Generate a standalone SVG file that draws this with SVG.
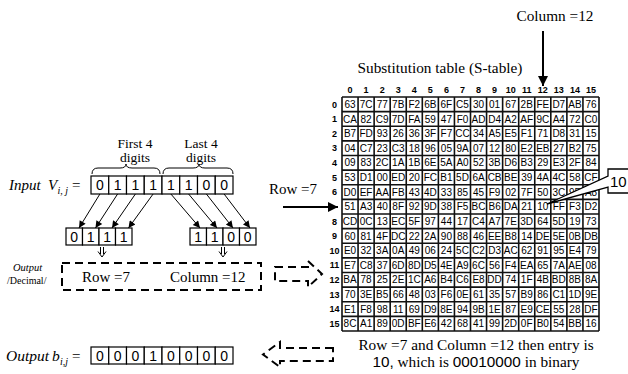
<svg xmlns="http://www.w3.org/2000/svg" width="628" height="374" viewBox="0 0 628 374">
<defs>
<marker id="ah" viewBox="0 0 10 10" refX="10" refY="5" markerWidth="9" markerHeight="7" markerUnits="userSpaceOnUse" orient="auto"><path d="M0,0 L10,5 L0,10 z" fill="#000"/></marker>
<marker id="ahb" viewBox="0 0 10 10" refX="10" refY="5" markerWidth="11" markerHeight="10" markerUnits="userSpaceOnUse" orient="auto"><path d="M0,0 L10,5 L0,10 z" fill="#000"/></marker>
</defs>
<style>
.serif{font-family:"Liberation Serif","Times New Roman",serif;fill:#000}
.it{font-style:italic}
.c{font-family:"Liberation Sans",Arial,sans-serif;font-size:10px;text-anchor:middle;fill:#000}
.hd{font-family:"Liberation Sans",Arial,sans-serif;font-size:9px;font-weight:bold;text-anchor:middle;fill:#000}
.box{fill:#fff;stroke:#000;stroke-width:1.2}
.bit{font-family:"Liberation Sans",Arial,sans-serif;font-size:14px;text-anchor:middle;fill:#000}
.dash{fill:none;stroke:#000;stroke-width:2;stroke-dasharray:8 5}
.ln{stroke:#000;stroke-width:1;fill:none}
.grid{stroke:#111;stroke-width:1.6;fill:none}
</style>
<rect width="628" height="374" fill="#fff"/>

<g id="column-label">
<text class="serif" x="555" y="21" font-size="15.3" text-anchor="middle">Column =12</text>
</g>
<g id="table-title">
<text class="serif" x="440" y="73" font-size="15.3" text-anchor="middle">Substitution table (S-table)</text>
</g>

<g id="s-table">
<rect x="342" y="97" width="257" height="234" fill="#fff"/>
<path class="grid" d="M342 97V331M358.06 97V331M374.13 97V331M390.19 97V331M406.25 97V331M422.31 97V331M438.38 97V331M454.44 97V331M470.5 97V331M486.56 97V331M502.63 97V331M518.69 97V331M534.75 97V331M550.81 97V331M566.88 97V331M582.94 97V331M599 97V331M342 97H599M342 111.63H599M342 126.25H599M342 140.88H599M342 155.5H599M342 170.13H599M342 184.75H599M342 199.38H599M342 214H599M342 228.63H599M342 243.25H599M342 257.88H599M342 272.5H599M342 287.13H599M342 301.75H599M342 316.38H599M342 331H599"/>
<text class="hd" y="93"><tspan x="350">0</tspan><tspan x="366.1">1</tspan><tspan x="382.2">2</tspan><tspan x="398.2">3</tspan><tspan x="414.3">4</tspan><tspan x="430.3">5</tspan><tspan x="446.4">6</tspan><tspan x="462.5">7</tspan><tspan x="478.5">8</tspan><tspan x="494.6">9</tspan><tspan x="510.7">10</tspan><tspan x="526.7">11</tspan><tspan x="542.8">12</tspan><tspan x="558.8">13</tspan><tspan x="574.9">14</tspan><tspan x="591">15</tspan></text>
<text class="hd" x="334.5"><tspan x="334.5" y="107.5">0</tspan><tspan x="334.5" y="122.1">1</tspan><tspan x="334.5" y="136.8">2</tspan><tspan x="334.5" y="151.4">3</tspan><tspan x="334.5" y="166">4</tspan><tspan x="334.5" y="180.6">5</tspan><tspan x="334.5" y="195.3">6</tspan><tspan x="334.5" y="224.5">8</tspan><tspan x="334.5" y="239.1">9</tspan><tspan x="334.5" y="253.8">10</tspan><tspan x="334.5" y="268.4">11</tspan><tspan x="334.5" y="283">12</tspan><tspan x="334.5" y="297.6">13</tspan><tspan x="334.5" y="312.3">14</tspan><tspan x="334.5" y="326.9">15</tspan></text>
<text class="c" y="107.9"><tspan x="350">63</tspan><tspan x="366.1">7C</tspan><tspan x="382.2">77</tspan><tspan x="398.2">7B</tspan><tspan x="414.3">F2</tspan><tspan x="430.3">6B</tspan><tspan x="446.4">6F</tspan><tspan x="462.5">C5</tspan><tspan x="478.5">30</tspan><tspan x="494.6">01</tspan><tspan x="510.7">67</tspan><tspan x="526.7">2B</tspan><tspan x="542.8">FE</tspan><tspan x="558.8">D7</tspan><tspan x="574.9">AB</tspan><tspan x="591">76</tspan></text>
<text class="c" y="122.5"><tspan x="350">CA</tspan><tspan x="366.1">82</tspan><tspan x="382.2">C9</tspan><tspan x="398.2">7D</tspan><tspan x="414.3">FA</tspan><tspan x="430.3">59</tspan><tspan x="446.4">47</tspan><tspan x="462.5">F0</tspan><tspan x="478.5">AD</tspan><tspan x="494.6">D4</tspan><tspan x="510.7">A2</tspan><tspan x="526.7">AF</tspan><tspan x="542.8">9C</tspan><tspan x="558.8">A4</tspan><tspan x="574.9">72</tspan><tspan x="591">C0</tspan></text>
<text class="c" y="137.2"><tspan x="350">B7</tspan><tspan x="366.1">FD</tspan><tspan x="382.2">93</tspan><tspan x="398.2">26</tspan><tspan x="414.3">36</tspan><tspan x="430.3">3F</tspan><tspan x="446.4">F7</tspan><tspan x="462.5">CC</tspan><tspan x="478.5">34</tspan><tspan x="494.6">A5</tspan><tspan x="510.7">E5</tspan><tspan x="526.7">F1</tspan><tspan x="542.8">71</tspan><tspan x="558.8">D8</tspan><tspan x="574.9">31</tspan><tspan x="591">15</tspan></text>
<text class="c" y="151.8"><tspan x="350">04</tspan><tspan x="366.1">C7</tspan><tspan x="382.2">23</tspan><tspan x="398.2">C3</tspan><tspan x="414.3">18</tspan><tspan x="430.3">96</tspan><tspan x="446.4">05</tspan><tspan x="462.5">9A</tspan><tspan x="478.5">07</tspan><tspan x="494.6">12</tspan><tspan x="510.7">80</tspan><tspan x="526.7">E2</tspan><tspan x="542.8">EB</tspan><tspan x="558.8">27</tspan><tspan x="574.9">B2</tspan><tspan x="591">75</tspan></text>
<text class="c" y="166.4"><tspan x="350">09</tspan><tspan x="366.1">83</tspan><tspan x="382.2">2C</tspan><tspan x="398.2">1A</tspan><tspan x="414.3">1B</tspan><tspan x="430.3">6E</tspan><tspan x="446.4">5A</tspan><tspan x="462.5">A0</tspan><tspan x="478.5">52</tspan><tspan x="494.6">3B</tspan><tspan x="510.7">D6</tspan><tspan x="526.7">B3</tspan><tspan x="542.8">29</tspan><tspan x="558.8">E3</tspan><tspan x="574.9">2F</tspan><tspan x="591">84</tspan></text>
<text class="c" y="181"><tspan x="350">53</tspan><tspan x="366.1">D1</tspan><tspan x="382.2">00</tspan><tspan x="398.2">ED</tspan><tspan x="414.3">20</tspan><tspan x="430.3">FC</tspan><tspan x="446.4">B1</tspan><tspan x="462.5">5D</tspan><tspan x="478.5">6A</tspan><tspan x="494.6">CB</tspan><tspan x="510.7">BE</tspan><tspan x="526.7">39</tspan><tspan x="542.8">4A</tspan><tspan x="558.8">4C</tspan><tspan x="574.9">58</tspan><tspan x="591">CF</tspan></text>
<text class="c" y="195.7"><tspan x="350">D0</tspan><tspan x="366.1">EF</tspan><tspan x="382.2">AA</tspan><tspan x="398.2">FB</tspan><tspan x="414.3">43</tspan><tspan x="430.3">4D</tspan><tspan x="446.4">33</tspan><tspan x="462.5">85</tspan><tspan x="478.5">45</tspan><tspan x="494.6">F9</tspan><tspan x="510.7">02</tspan><tspan x="526.7">7F</tspan><tspan x="542.8">50</tspan><tspan x="558.8">3C</tspan><tspan x="574.9">9F</tspan><tspan x="591">A8</tspan></text>
<text class="c" y="210.3"><tspan x="350">51</tspan><tspan x="366.1">A3</tspan><tspan x="382.2">40</tspan><tspan x="398.2">8F</tspan><tspan x="414.3">92</tspan><tspan x="430.3">9D</tspan><tspan x="446.4">38</tspan><tspan x="462.5">F5</tspan><tspan x="478.5">BC</tspan><tspan x="494.6">B6</tspan><tspan x="510.7">DA</tspan><tspan x="526.7">21</tspan><tspan x="542.8">10</tspan><tspan x="558.8">FF</tspan><tspan x="574.9">F3</tspan><tspan x="591">D2</tspan></text>
<text class="c" y="224.9"><tspan x="350">CD</tspan><tspan x="366.1">0C</tspan><tspan x="382.2">13</tspan><tspan x="398.2">EC</tspan><tspan x="414.3">5F</tspan><tspan x="430.3">97</tspan><tspan x="446.4">44</tspan><tspan x="462.5">17</tspan><tspan x="478.5">C4</tspan><tspan x="494.6">A7</tspan><tspan x="510.7">7E</tspan><tspan x="526.7">3D</tspan><tspan x="542.8">64</tspan><tspan x="558.8">5D</tspan><tspan x="574.9">19</tspan><tspan x="591">73</tspan></text>
<text class="c" y="239.5"><tspan x="350">60</tspan><tspan x="366.1">81</tspan><tspan x="382.2">4F</tspan><tspan x="398.2">DC</tspan><tspan x="414.3">22</tspan><tspan x="430.3">2A</tspan><tspan x="446.4">90</tspan><tspan x="462.5">88</tspan><tspan x="478.5">46</tspan><tspan x="494.6">EE</tspan><tspan x="510.7">B8</tspan><tspan x="526.7">14</tspan><tspan x="542.8">DE</tspan><tspan x="558.8">5E</tspan><tspan x="574.9">0B</tspan><tspan x="591">DB</tspan></text>
<text class="c" y="254.2"><tspan x="350">E0</tspan><tspan x="366.1">32</tspan><tspan x="382.2">3A</tspan><tspan x="398.2">0A</tspan><tspan x="414.3">49</tspan><tspan x="430.3">06</tspan><tspan x="446.4">24</tspan><tspan x="462.5">5C</tspan><tspan x="478.5">C2</tspan><tspan x="494.6">D3</tspan><tspan x="510.7">AC</tspan><tspan x="526.7">62</tspan><tspan x="542.8">91</tspan><tspan x="558.8">95</tspan><tspan x="574.9">E4</tspan><tspan x="591">79</tspan></text>
<text class="c" y="268.8"><tspan x="350">E7</tspan><tspan x="366.1">C8</tspan><tspan x="382.2">37</tspan><tspan x="398.2">6D</tspan><tspan x="414.3">8D</tspan><tspan x="430.3">D5</tspan><tspan x="446.4">4E</tspan><tspan x="462.5">A9</tspan><tspan x="478.5">6C</tspan><tspan x="494.6">56</tspan><tspan x="510.7">F4</tspan><tspan x="526.7">EA</tspan><tspan x="542.8">65</tspan><tspan x="558.8">7A</tspan><tspan x="574.9">AE</tspan><tspan x="591">08</tspan></text>
<text class="c" y="283.4"><tspan x="350">BA</tspan><tspan x="366.1">78</tspan><tspan x="382.2">25</tspan><tspan x="398.2">2E</tspan><tspan x="414.3">1C</tspan><tspan x="430.3">A6</tspan><tspan x="446.4">B4</tspan><tspan x="462.5">C6</tspan><tspan x="478.5">E8</tspan><tspan x="494.6">DD</tspan><tspan x="510.7">74</tspan><tspan x="526.7">1F</tspan><tspan x="542.8">4B</tspan><tspan x="558.8">BD</tspan><tspan x="574.9">8B</tspan><tspan x="591">8A</tspan></text>
<text class="c" y="298"><tspan x="350">70</tspan><tspan x="366.1">3E</tspan><tspan x="382.2">B5</tspan><tspan x="398.2">66</tspan><tspan x="414.3">48</tspan><tspan x="430.3">03</tspan><tspan x="446.4">F6</tspan><tspan x="462.5">0E</tspan><tspan x="478.5">61</tspan><tspan x="494.6">35</tspan><tspan x="510.7">57</tspan><tspan x="526.7">B9</tspan><tspan x="542.8">86</tspan><tspan x="558.8">C1</tspan><tspan x="574.9">1D</tspan><tspan x="591">9E</tspan></text>
<text class="c" y="312.7"><tspan x="350">E1</tspan><tspan x="366.1">F8</tspan><tspan x="382.2">98</tspan><tspan x="398.2">11</tspan><tspan x="414.3">69</tspan><tspan x="430.3">D9</tspan><tspan x="446.4">8E</tspan><tspan x="462.5">94</tspan><tspan x="478.5">9B</tspan><tspan x="494.6">1E</tspan><tspan x="510.7">87</tspan><tspan x="526.7">E9</tspan><tspan x="542.8">CE</tspan><tspan x="558.8">55</tspan><tspan x="574.9">28</tspan><tspan x="591">DF</tspan></text>
<text class="c" y="327.3"><tspan x="350">8C</tspan><tspan x="366.1">A1</tspan><tspan x="382.2">89</tspan><tspan x="398.2">0D</tspan><tspan x="414.3">BF</tspan><tspan x="430.3">E6</tspan><tspan x="446.4">42</tspan><tspan x="462.5">68</tspan><tspan x="478.5">41</tspan><tspan x="494.6">99</tspan><tspan x="510.7">2D</tspan><tspan x="526.7">0F</tspan><tspan x="542.8">B0</tspan><tspan x="558.8">54</tspan><tspan x="574.9">BB</tspan><tspan x="591">16</tspan></text>
</g>

<g id="callout-10">
<path d="M608 169H640V193H608V187L547 204L608 176Z" fill="#fff" stroke="#000" stroke-width="1.3"/>
<text x="610" y="187" font-family="Liberation Sans, Arial, sans-serif" font-size="15" fill="#000">10</text>
</g>

<g id="row-label">
<text class="serif" x="269" y="194" font-size="15">Row =7</text>
</g>

<g id="brace-labels">
<text class="serif" font-size="13.5" text-anchor="middle"><tspan x="135" y="148">First 4</tspan><tspan x="135" y="162">digits</tspan></text>
<text class="serif" font-size="13.5" text-anchor="middle"><tspan x="201" y="148">Last 4</tspan><tspan x="201" y="162">digits</tspan></text>
<path class="ln" d="M92 174Q92 168 98 168L120 168Q126 168 126 164Q126 168 132 168L154 168Q160 168 160 174"/>
<path class="ln" d="M163 174Q163 168 169 168L193 168Q199 168 199 164Q199 168 205 168L227 168Q233 168 233 174"/>
</g>

<g id="input">
<text class="serif it" x="9" y="190" font-size="15">Input</text>
<text class="serif it" x="48" y="190" font-size="15">V</text>
<text class="serif it" x="57.5" y="194" font-size="10">i, j</text>
<text class="serif" x="72" y="190" font-size="15">=</text>
<g>
<rect class="box" x="91" y="176" width="17.75" height="18"/><rect class="box" x="108.75" y="176" width="17.75" height="18"/><rect class="box" x="126.5" y="176" width="17.75" height="18"/><rect class="box" x="144.25" y="176" width="17.75" height="18"/><rect class="box" x="162" y="176" width="17.75" height="18"/><rect class="box" x="179.75" y="176" width="17.75" height="18"/><rect class="box" x="197.5" y="176" width="17.75" height="18"/><rect class="box" x="215.25" y="176" width="17.75" height="18"/>
</g>
<text class="bit" y="190"><tspan x="99.9">0</tspan><tspan x="117.6">1</tspan><tspan x="135.4">1</tspan><tspan x="153.1">1</tspan><tspan x="170.9">1</tspan><tspan x="188.6">1</tspan><tspan x="206.4">0</tspan><tspan x="224.1">0</tspan></text>
</g>

<g id="row-bits">
<rect class="box" x="66" y="228" width="16.5" height="17"/><rect class="box" x="82.5" y="228" width="16.5" height="17"/><rect class="box" x="99" y="228" width="16.5" height="17"/><rect class="box" x="115.5" y="228" width="16.5" height="17"/>
<text class="bit" y="241.5" font-size="13.5"><tspan x="74.25">0</tspan><tspan x="90.75">1</tspan><tspan x="107.25">1</tspan><tspan x="123.75">1</tspan></text>
</g>

<g id="column-bits">
<rect class="box" x="190" y="228" width="16.5" height="17"/><rect class="box" x="206.5" y="228" width="16.5" height="17"/><rect class="box" x="223" y="228" width="16.5" height="17"/><rect class="box" x="239.5" y="228" width="16.5" height="17"/>
<text class="bit" y="241.5" font-size="13.5"><tspan x="198.25">1</tspan><tspan x="214.75">1</tspan><tspan x="231.25">0</tspan><tspan x="247.75">0</tspan></text>
</g>

<g id="decimal-output">
<text class="serif it" x="13" y="271" font-size="10.5">Output</text>
<text class="serif" x="7" y="284" font-size="10">/Decimal/</text>
<rect class="dash" x="62" y="263" width="199" height="27"/>
<text class="serif" x="82" y="282" font-size="15">Row =7</text>
<text class="serif" x="170" y="282" font-size="15">Column =12</text>
</g>

<g id="output">
<text class="serif it" x="6" y="361" font-size="15.5">Output</text>
<text class="serif it" x="52" y="361" font-size="15.5">b</text>
<text class="serif it" x="60" y="365" font-size="10">i,j</text>
<text class="serif" x="72" y="361" font-size="15">=</text>
<rect class="box" x="91" y="347" width="17.75" height="17"/><rect class="box" x="108.75" y="347" width="17.75" height="17"/><rect class="box" x="126.5" y="347" width="17.75" height="17"/><rect class="box" x="144.25" y="347" width="17.75" height="17"/><rect class="box" x="162" y="347" width="17.75" height="17"/><rect class="box" x="179.75" y="347" width="17.75" height="17"/><rect class="box" x="197.5" y="347" width="17.75" height="17"/><rect class="box" x="215.25" y="347" width="17.75" height="17"/>
<text class="bit" y="360.5"><tspan x="99.9">0</tspan><tspan x="117.6">0</tspan><tspan x="135.4">0</tspan><tspan x="153.1">1</tspan><tspan x="170.9">0</tspan><tspan x="188.6">0</tspan><tspan x="206.4">0</tspan><tspan x="224.1">0</tspan></text>
</g>

<g id="result-note">
<text class="serif" x="476" y="350" font-size="15.3" text-anchor="middle">Row =7 and Column =12 then entry is</text>
<text class="serif" x="476" y="367" font-size="15.3" text-anchor="middle"><tspan font-family="Liberation Sans, Arial, sans-serif">10,</tspan> which is <tspan font-family="Liberation Sans, Arial, sans-serif">00010000</tspan> in binary</text>
</g>

<g id="connectors">
<line x1="543" y1="31" x2="543" y2="86" stroke="#000" stroke-width="2" marker-end="url(#ahb)"/>
<line x1="283" y1="207" x2="338" y2="207" stroke="#000" stroke-width="2" marker-end="url(#ahb)"/>
<g stroke="#000" stroke-width="1" marker-end="url(#ah)">
<line x1="99.9" y1="194" x2="79" y2="228"/>
<line x1="117.6" y1="194" x2="95.5" y2="228"/>
<line x1="135.4" y1="194" x2="112" y2="228"/>
<line x1="153.1" y1="194" x2="128.5" y2="228"/>
<line x1="170.9" y1="194" x2="200" y2="228"/>
<line x1="188.6" y1="194" x2="217" y2="228"/>
<line x1="206.4" y1="194" x2="233" y2="228"/>
<line x1="224.1" y1="194" x2="250" y2="228"/>
</g>
<path class="ln" d="M100.5 247V254M103.5 247V254M98 251.5L102 257L106 251.5"/>
<path class="ln" d="M221.5 247V254M224.5 247V254M219 251.5L223 257L227 251.5"/>
<path class="dash" d="M275 267H308V261L322 274L308 287V281H275Z" stroke-dasharray="7 5"/>
<path class="dash" d="M333 348H280V342L263 354.5L280 367V361H333Z" stroke-dasharray="7 5"/>
</g>
</svg>
